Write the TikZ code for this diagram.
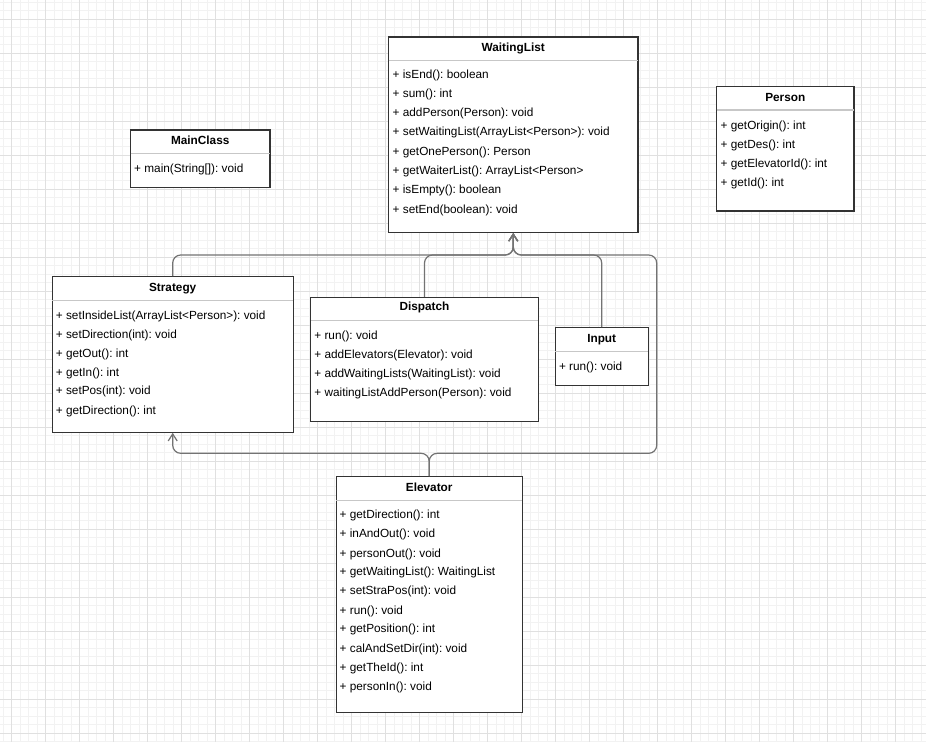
\documentclass[tikz,border=0pt]{standalone}
\usepackage{fontspec}
\setmainfont{Liberation Sans}
\usetikzlibrary{arrows.meta}
\frenchspacing
\begin{document}
\begin{tikzpicture}[x=1pt,y=-1pt,
  font=\fontsize{11.8}{14}\selectfont,
  classbox/.style={draw=black!80, line width=1.1pt, fill=white, inner sep=0},
  ctitle/.style={font=\fontsize{11.8}{14}\selectfont\bfseries, inner sep=0, anchor=base},
  crow/.style={anchor=west, inner sep=0, text height=8.5pt, text depth=2.5pt},
  csep/.style={draw=black!22, line width=1.3pt},
  dep/.style={draw=black!55, line width=1.2pt, rounded corners=8pt, -{Straight Barb[length=7pt,width=9pt]}},
  gridminor/.style={draw=black!5, line width=0.8pt},
  gridmajor/.style={draw=black!12, line width=0.8pt}]
% Background and grid
\fill[white] (0,0) rectangle (926,742);
\useasboundingbox (0,0) rectangle (926,742);
\begin{scope}
\clip (0,0) rectangle (926,742);
\foreach \gx in {0,...,109} \draw[gridminor] ({3.17+8.5*\gx},0) -- ++(0,742);
\foreach \gy in {0,...,87} \draw[gridminor] (0,{2.33+8.5*\gy}) -- ++(926,0);
\foreach \gx in {0,...,27} \draw[gridmajor] ({11.67+34*\gx},0) -- ++(0,742);
\foreach \gy in {0,...,21} \draw[gridmajor] (0,{19.33+34*\gy}) -- ++(926,0);
\end{scope}
% Class boxes
\node[classbox, minimum width=249.5pt, minimum height=195.5pt] (waiting) at (513.25,134.75) {};
\node[classbox, minimum width=137.3pt, minimum height=124.3pt] (person) at (785.3,148.8) {};
\node[classbox, minimum width=139.5pt, minimum height=57.3pt] (mainc) at (200.25,158.65) {};
\node[classbox, minimum width=241.3pt, minimum height=155.6pt] (strategy) at (172.7,354.5) {};
\node[classbox, minimum width=227.6pt, minimum height=123.7pt] (dispatch) at (424.5,359.2) {};
\node[classbox, minimum width=92.7pt, minimum height=57.6pt] (input) at (601.7,356.5) {};
\node[classbox, minimum width=186.3pt, minimum height=236pt] (elevator) at (429.2,594.7) {};
% Header separators
\foreach \cls in {waiting,person,mainc,strategy,dispatch,input,elevator}
  \draw[csep] ([xshift=0.6pt,yshift=-24pt]\cls.north west) -- ([xshift=-0.6pt,yshift=-24pt]\cls.north east);
% Class names
\node[ctitle] (waitingT) at ([yshift=-15pt]waiting.north) {WaitingList};
\node[ctitle] (personT) at ([yshift=-15pt]person.north) {Person};
\node[ctitle] (maincT) at ([yshift=-15pt]mainc.north) {MainClass};
\node[ctitle] (strategyT) at ([yshift=-15pt]strategy.north) {Strategy};
\node[ctitle] (dispatchT) at ([yshift=-14pt]dispatch.north) {Dispatch};
\node[ctitle] (inputT) at ([yshift=-15pt]input.north) {Input};
\node[ctitle] (elevatorT) at ([yshift=-15pt]elevator.north) {Elevator};
% WaitingList methods
\node[crow] (w1) at (392.5,75) {+ isEnd(): boolean};
\node[crow] (w2) at (392.5,94.3) {+ sum(): int};
\node[crow] (w3) at (392.5,113.6) {+ addPerson(Person): void};
\node[crow] (w4) at (392.5,132.9) {+ setWaitingList(ArrayList<Person>): void};
\node[crow] (w5) at (392.5,152.2) {+ getOnePerson(): Person};
\node[crow] (w6) at (392.5,171.5) {+ getWaiterList(): ArrayList<Person>};
\node[crow] (w7) at (392.5,190.8) {+ isEmpty(): boolean};
\node[crow] (w8) at (392.5,210) {+ setEnd(boolean): void};
% Person methods
\node[crow] (p1) at (720.5,126.5) {+ getOrigin(): int};
\node[crow] (p2) at (720.5,145.5) {+ getDes(): int};
\node[crow] (p3) at (720.5,164.3) {+ getElevatorId(): int};
\node[crow] (p4) at (720.5,183.3) {+ getId(): int};
% MainClass methods
\node[crow] (m1) at (134,169.5) {+ main(String[]): void};
% Strategy methods
\node[crow] (s1) at (55.7,316.5) {+ setInsideList(ArrayList<Person>): void};
\node[crow] (s2) at (55.7,335) {+ setDirection(int): void};
\node[crow] (s3) at (55.7,354.5) {+ getOut(): int};
\node[crow] (s4) at (55.7,373.5) {+ getIn(): int};
\node[crow] (s5) at (55.7,391.5) {+ setPos(int): void};
\node[crow] (s6) at (55.7,411.5) {+ getDirection(): int};
% Dispatch methods
\node[crow] (d1) at (314.2,336.7) {+ run(): void};
\node[crow] (d2) at (314.2,355.7) {+ addElevators(Elevator): void};
\node[crow] (d3) at (314.2,374.7) {+ addWaitingLists(WaitingList): void};
\node[crow] (d4) at (314.2,393.7) {+ waitingListAddPerson(Person): void};
% Input methods
\node[crow] (i1) at (558.8,367.3) {+ run(): void};
% Elevator methods
\node[crow] (e1) at (339.5,515.7) {+ getDirection(): int};
\node[crow] (e2) at (339.5,534.3) {+ inAndOut(): void};
\node[crow] (e3) at (339.5,554.3) {+ personOut(): void};
\node[crow] (e4) at (339.5,572.3) {+ getWaitingList(): WaitingList};
\node[crow] (e5) at (339.5,591) {+ setStraPos(int): void};
\node[crow] (e6) at (339.5,611) {+ run(): void};
\node[crow] (e7) at (339.5,629.3) {+ getPosition(): int};
\node[crow] (e8) at (339.5,649.3) {+ calAndSetDir(int): void};
\node[crow] (e9) at (339.5,668.5) {+ getTheId(): int};
\node[crow] (e10) at (339.5,687) {+ personIn(): void};
% Dependencies
\coordinate (wbus) at (513.25,255);
\coordinate (ebus) at (656.7,453.3);
\coordinate (sbus) at (172.7,453.3);
\draw[dep] (strategy.north) |- (wbus) -- (waiting.south);
\draw[dep] (dispatch.north) |- (wbus) -- (waiting.south);
\draw[dep] (input.north) |- (wbus) -- (waiting.south);
\draw[dep] (elevator.north) |- (ebus) |- (wbus) -- (waiting.south);
\draw[dep] (elevator.north) |- (sbus) -- (strategy.south);
\end{tikzpicture}
\end{document}
